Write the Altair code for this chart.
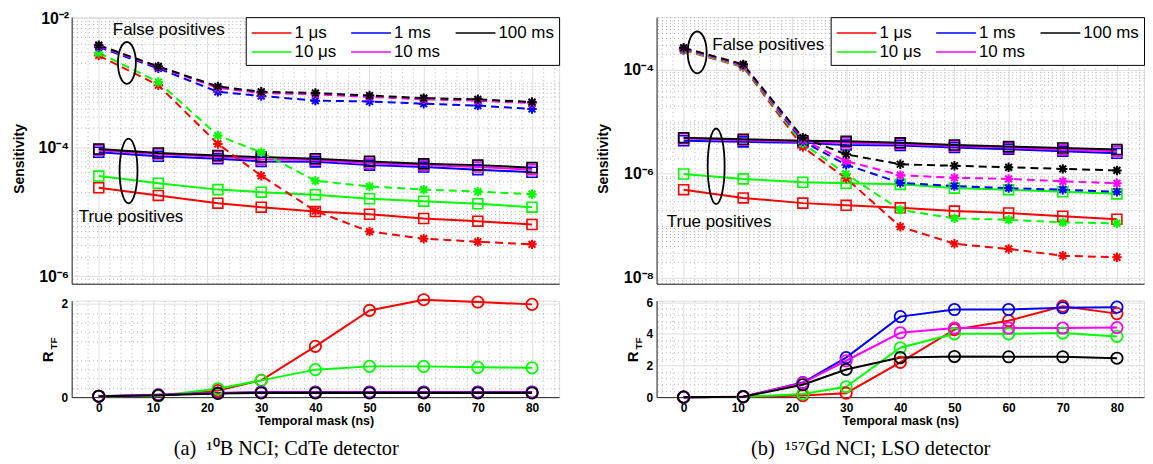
import altair as alt
import pandas as pd

# ---------------- data ----------------
mask_ns = [0, 11, 22, 30, 40, 50, 60, 70, 80]
series_names = ["1 μs", "10 μs", "1 ms", "10 ms", "100 ms"]          # draw + legend order
series_colors = ["#ff0000", "#00ff00", "#0000ff", "#ff00ff", "#000000"]

# (a) 10B NCI; CdTe detector -- true positives (solid)
a_tp = {
    "1 μs":   [2.34e-5, 1.78e-5, 1.35e-5, 1.17e-5, 1.0e-5, 9.1e-6, 7.8e-6, 7.1e-6, 6.3e-6],
    "10 μs":  [3.55e-5, 2.75e-5, 2.19e-5, 2.0e-5, 1.82e-5, 1.58e-5, 1.45e-5, 1.32e-5, 1.17e-5],
    "1 ms":   [8.3e-5, 7.2e-5, 6.6e-5, 6.0e-5, 5.9e-5, 5.25e-5, 4.9e-5, 4.47e-5, 4.07e-5],
    "10 ms":  [8.9e-5, 7.8e-5, 7.1e-5, 6.5e-5, 6.3e-5, 5.6e-5, 5.25e-5, 4.9e-5, 4.47e-5],
    "100 ms": [9.3e-5, 8.1e-5, 7.4e-5, 7.0e-5, 6.6e-5, 6.0e-5, 5.5e-5, 5.25e-5, 4.8e-5],
}
# (a) false positives (dashed)
a_fp = {
    "1 μs":   [2.63e-3, 9.1e-4, 1.12e-4, 3.6e-5, 1.02e-5, 4.9e-6, 3.8e-6, 3.4e-6, 3.1e-6],
    "10 μs":  [2.9e-3, 1.02e-3, 1.51e-4, 8.3e-5, 3.0e-5, 2.45e-5, 2.19e-5, 2.04e-5, 1.86e-5],
    "1 ms":   [3.55e-3, 1.66e-3, 7.2e-4, 6.2e-4, 5.25e-4, 5.1e-4, 4.7e-4, 4.4e-4, 3.9e-4],
    "10 ms":  [3.7e-3, 1.74e-3, 8.3e-4, 6.9e-4, 6.6e-4, 6.0e-4, 5.5e-4, 5.25e-4, 4.8e-4],
    "100 ms": [3.8e-3, 1.78e-3, 8.7e-4, 7.2e-4, 6.9e-4, 6.3e-4, 5.75e-4, 5.5e-4, 5.0e-4],
}
# (a) R_TF
a_rtf = {
    "1 μs":   [0.02, 0.03, 0.14, 0.36, 1.09, 1.86, 2.09, 2.04, 1.99],
    "10 μs":  [0.02, 0.03, 0.18, 0.36, 0.59, 0.66, 0.66, 0.64, 0.63],
    "1 ms":   [0.02, 0.05, 0.09, 0.11, 0.11, 0.11, 0.11, 0.11, 0.11],
    "10 ms":  [0.02, 0.05, 0.09, 0.10, 0.10, 0.10, 0.10, 0.10, 0.10],
    "100 ms": [0.02, 0.04, 0.08, 0.09, 0.09, 0.09, 0.09, 0.09, 0.09],
}

# (b) 157Gd NCI; LSO detector -- true positives
b_tp = {
    "1 μs":   [4.9e-7, 3.4e-7, 2.7e-7, 2.45e-7, 2.19e-7, 1.9e-7, 1.74e-7, 1.51e-7, 1.32e-7],
    "10 μs":  [9.8e-7, 7.9e-7, 6.8e-7, 6.5e-7, 6.2e-7, 5.25e-7, 4.9e-7, 4.47e-7, 4.07e-7],
    "1 ms":   [4.27e-6, 4.07e-6, 3.9e-6, 3.55e-6, 3.47e-6, 3.16e-6, 2.95e-6, 2.7e-6, 2.45e-6],
    "10 ms":  [4.7e-6, 4.37e-6, 4.07e-6, 3.9e-6, 3.7e-6, 3.4e-6, 3.16e-6, 2.88e-6, 2.7e-6],
    "100 ms": [4.9e-6, 4.57e-6, 4.27e-6, 4.17e-6, 3.9e-6, 3.55e-6, 3.3e-6, 3.1e-6, 2.9e-6],
}
# (b) false positives
b_fp = {
    "1 μs":   [2.34e-4, 1.12e-4, 3.24e-6, 8.1e-7, 9.5e-8, 4.47e-8, 3.55e-8, 2.63e-8, 2.45e-8],
    "10 μs":  [2.4e-4, 1.15e-4, 3.8e-6, 9.8e-7, 2.0e-7, 1.38e-7, 1.29e-7, 1.15e-7, 1.1e-7],
    "1 ms":   [2.51e-4, 1.2e-4, 4.17e-6, 1.48e-6, 6.6e-7, 5.75e-7, 5.25e-7, 4.9e-7, 4.47e-7],
    "10 ms":  [2.51e-4, 1.2e-4, 4.47e-6, 1.74e-6, 9.3e-7, 8.3e-7, 7.9e-7, 7.1e-7, 6.5e-7],
    "100 ms": [2.63e-4, 1.26e-4, 4.9e-6, 2.34e-6, 1.51e-6, 1.41e-6, 1.32e-6, 1.23e-6, 1.15e-6],
}
# (b) R_TF
b_rtf = {
    "1 μs":   [0.0, 0.02, 0.10, 0.25, 2.20, 4.27, 4.83, 5.75, 5.28],
    "10 μs":  [0.0, 0.02, 0.20, 0.66, 3.12, 4.00, 4.00, 4.05, 3.84],
    "1 ms":   [0.0, 0.03, 0.92, 2.50, 5.09, 5.54, 5.54, 5.65, 5.69],
    "10 ms":  [0.0, 0.03, 0.90, 2.30, 4.07, 4.37, 4.37, 4.37, 4.40],
    "100 ms": [0.0, 0.03, 0.78, 1.75, 2.50, 2.57, 2.55, 2.55, 2.46],
}

# annotations: (label, x, y)
a_texts = [("False positives", 2.6, 6.5e-3), ("True positives", -3.7, 8.1e-6)]
a_ellipses = [(5.2, 2.02e-3, 18, 42), (5.5, 4.26e-5, 18, 65)]   # x, y, width px, height px
b_texts = [("False positives", 5.3, 3.03e-4), ("True positives", -3.1, 1.17e-7)]
b_ellipses = [(2.5, 2.14e-4, 19, 42), (6.0, 1.38e-6, 17, 76)]

captions = ["(a)\u00a0\u00a0¹⁰B NCI; CdTe detector", "(b)\u00a0\u00a0¹⁵⁷Gd NCI; LSO detector"]

# ---------------- styling ----------------
FONT = "Liberation Sans"
W, H_TOP, H_BOT = 490, 268, 97
X_DOMAIN = [-5, 85]
MAJOR_X = [0, 10, 20, 30, 40, 50, 60, 70, 80]
MINOR_X = [v for v in range(-4, 86, 2) if v % 10 != 0]
MAJOR_GRID = "#dedede"
MINOR_GRID = "#b4b4b4"
AXIS_COLOR = "#262626"
ASTERISK = "M-1,0L1,0M0,-1L0,1M-0.72,-0.72L0.72,0.72M-0.72,0.72L0.72,-0.72"
LEGEND_LINE = "M-1,0L3,0"   # a 40 px line for a 20 px symbol box

color_scale = alt.Scale(domain=series_names, range=series_colors)

LEGEND = alt.Legend(
    title=None, orient="top-right", offset=0, columns=3, symbolType=LEGEND_LINE,
    symbolSize=400, symbolStrokeWidth=1.5, labelFont=FONT, labelFontSize=17,
    labelOffset=22, columnPadding=12, rowPadding=0, padding=5,
    strokeColor="#000000", fillColor="#ffffff", labelLimit=200, labelColor="#000000",
)


def long(d):
    rows = []
    for s in series_names:
        for x, v in zip(mask_ns, d[s]):
            rows.append({"mask": x, "series": s, "value": v})
    return pd.DataFrame(rows)


def ellipse_path(r):
    k = 0.5523
    return (f"M0,-1C{k*r:.4f},-1 {r:.4f},{-k:.4f} {r:.4f},0"
            f"C{r:.4f},{k:.4f} {k*r:.4f},1 0,1"
            f"C{-k*r:.4f},1 {-r:.4f},{k:.4f} {-r:.4f},0"
            f"C{-r:.4f},{-k:.4f} {-k*r:.4f},-1 0,-1Z")


def minor_axis(orient, values):
    return alt.Axis(orient=orient, values=values, grid=True, gridDash=[1, 3],
                    gridColor=MINOR_GRID, gridWidth=1, labels=False, ticks=False,
                    domain=False, title=None)


def top_chart(tp, fp, ydom, yvals, minor_y, texts, ellipses, title_x):
    xs = alt.Scale(domain=X_DOMAIN, nice=False, zero=False)
    ys = alt.Scale(type="log", domain=ydom, nice=False)
    tpdf, fpdf = long(tp), long(fp)
    col = alt.Color("series:N", scale=color_scale, legend=LEGEND)

    minor = alt.Chart(tpdf).mark_point(opacity=0, size=0).encode(
        x=alt.X("mask:Q", scale=xs, axis=minor_axis("top", MINOR_X)),
        y=alt.Y("value:Q", scale=ys, axis=minor_axis("right", minor_y)),
    )
    label_expr = ("datum.value < 5e-8 ? '10⁻⁸' : datum.value < 5e-6 ? '10⁻⁶' : "
                  "datum.value < 5e-4 ? '10⁻⁴' : '10⁻²'")
    x_axis = alt.Axis(values=MAJOR_X, grid=True, gridColor=MAJOR_GRID, labels=False,
                      ticks=False, title=None, domainColor=AXIS_COLOR)
    y_axis = alt.Axis(values=yvals, grid=True, gridColor=MAJOR_GRID, ticks=False, tickSize=0,
                      labelExpr=label_expr, labelFont=FONT, labelFontSize=16,
                      labelFontWeight="bold", labelColor="#000000", labelPadding=3,
                      domainColor=AXIS_COLOR, title="Sensitivity", titleFont=FONT,
                      titleFontSize=14, titleFontWeight="bold", titleColor="#000000",
                      titleAngle=270, titleBaseline="alphabetic", titleAlign="center",
                      titleX=title_x, titleY=142)
    tp_line = alt.Chart(tpdf).mark_line(strokeWidth=2).encode(
        x=alt.X("mask:Q", scale=xs, axis=x_axis),
        y=alt.Y("value:Q", scale=ys, axis=y_axis),
        color=col, detail="series:N",
    )
    fp_line = alt.Chart(fpdf).mark_line(strokeWidth=2, strokeDash=[8, 5]).encode(
        x=alt.X("mask:Q", scale=xs, axis=None),
        y=alt.Y("value:Q", scale=ys, axis=None),
        color=col,
    )
    tp_pts = alt.Chart(tpdf).mark_point(shape="square", filled=False, size=100, strokeWidth=1.6,
                                        opacity=1).encode(
        x=alt.X("mask:Q", scale=xs, axis=None),
        y=alt.Y("value:Q", scale=ys, axis=None),
        color=col,
    )
    fp_pts = alt.Chart(fpdf).mark_point(shape=ASTERISK, filled=False, size=90, strokeWidth=2,
                                        opacity=1).encode(
        x=alt.X("mask:Q", scale=xs, axis=None),
        y=alt.Y("value:Q", scale=ys, axis=None),
        color=col,
    )
    tdf = pd.DataFrame(texts, columns=["label", "mask", "value"])
    txt = alt.Chart(tdf).mark_text(align="left", baseline="middle", font=FONT, fontSize=17,
                                   color="#000000").encode(
        x=alt.X("mask:Q", scale=xs, axis=None),
        y=alt.Y("value:Q", scale=ys, axis=None),
        text="label:N",
    )
    layers = [minor, tp_line, fp_line, tp_pts, fp_pts, txt]
    for (ex, ey, ew, eh) in ellipses:
        edf = pd.DataFrame({"mask": [ex], "value": [ey]})
        layers.append(
            alt.Chart(edf).mark_point(shape=ellipse_path(ew / eh), size=eh * eh, filled=False,
                                      color="#000000", strokeWidth=1.8, opacity=1).encode(
                x=alt.X("mask:Q", scale=xs, axis=None),
                y=alt.Y("value:Q", scale=ys, axis=None),
            )
        )
    return alt.layer(*layers).resolve_axis(x="independent", y="independent").properties(
        width=W, height=H_TOP)


def bottom_chart(r, ymax, yvals, minor_y):
    xs = alt.Scale(domain=X_DOMAIN, nice=False, zero=False)
    ys = alt.Scale(domain=[0, ymax], nice=False, zero=False)
    df = long(r)
    col = alt.Color("series:N", scale=color_scale, legend=None)
    minor = alt.Chart(df).mark_point(opacity=0, size=0).encode(
        x=alt.X("mask:Q", scale=xs, axis=minor_axis("top", MINOR_X)),
        y=alt.Y("value:Q", scale=ys, axis=minor_axis("right", minor_y)),
    )
    x_axis = alt.Axis(values=MAJOR_X, grid=True, gridColor=MAJOR_GRID, ticks=False, tickSize=0,
                      format="d", labelFont=FONT, labelFontSize=12, labelFontWeight="bold",
                      labelColor="#000000", labelPadding=5, domainColor=AXIS_COLOR,
                      title="Temporal mask (ns)", titleFont=FONT, titleFontSize=12.5,
                      titleFontWeight="bold", titleColor="#000000", titlePadding=2)
    y_axis = alt.Axis(values=yvals, grid=True, gridColor=MAJOR_GRID, ticks=False, tickSize=0,
                      format="d", labelFont=FONT, labelFontSize=12, labelFontWeight="bold",
                      labelColor="#000000", labelPadding=4, domainColor=AXIS_COLOR,
                      title="R", titleFont=FONT, titleFontSize=15, titleFontWeight="bold",
                      titleColor="#000000", titleAngle=270, titleBaseline="alphabetic",
                      titleAlign="center", titleX=-19, titleY=56)
    line = alt.Chart(df).mark_line(strokeWidth=2).encode(
        x=alt.X("mask:Q", scale=xs, axis=x_axis),
        y=alt.Y("value:Q", scale=ys, axis=y_axis),
        color=col,
    )
    pts = alt.Chart(df).mark_point(shape="circle", filled=False, size=130, strokeWidth=1.8,
                                   opacity=1).encode(
        x=alt.X("mask:Q", scale=xs, axis=None),
        y=alt.Y("value:Q", scale=ys, axis=None),
        color=col,
    )
    sub = alt.Chart(pd.DataFrame({"t": ["TF"]})).mark_text(
        font=FONT, fontSize=10, fontWeight="bold", angle=270, align="center",
        baseline="alphabetic", color="#000000").encode(
        x=alt.value(-15), y=alt.value(43), text="t:N")
    return alt.layer(minor, line, pts, sub).resolve_axis(
        x="independent", y="independent").properties(width=W, height=H_BOT)


minor_y_a = [m * 10.0 ** e for e in range(-7, -1) for m in range(1, 10)
             if not (m == 1 and e in (-6, -4, -2)) and 7.6e-7 <= m * 10.0 ** e <= 1.03e-2]
minor_y_b = [m * 10.0 ** e for e in range(-9, -2) for m in range(1, 10)
             if not (m == 1 and e in (-8, -6, -4)) and 7.6e-9 <= m * 10.0 ** e <= 1.02e-3]

top_a = top_chart(a_tp, a_fp, [7.6e-7, 1.035e-2], [1e-6, 1e-4, 1e-2], minor_y_a,
                  a_texts, a_ellipses, -48)
top_b = top_chart(b_tp, b_fp, [7.6e-9, 1.02e-3], [1e-8, 1e-6, 1e-4], minor_y_b,
                  b_texts, b_ellipses, -49)
bot_a = bottom_chart(a_rtf, 2.07, [0, 1, 2], [round(0.2 * i, 1) for i in range(1, 11) if i % 5])
bot_b = bottom_chart(b_rtf, 6.1, [0, 2, 4, 6], [round(0.4 * i, 1) for i in range(1, 16) if i % 5])


def caption(t):
    return alt.TitleParams(text=t, orient="bottom", anchor="middle", font="Liberation Serif",
                           fontSize=20.5, fontWeight="normal", color="#000000", offset=11)


col_a = alt.vconcat(top_a, bot_a, spacing=17, bounds="flush",
                    title=caption(captions[0])).resolve_scale(color="independent")
col_b = alt.vconcat(top_b, bot_b, spacing=17, bounds="flush",
                    title=caption(captions[1])).resolve_scale(color="independent")

chart = alt.hconcat(col_a, col_b, spacing=36).resolve_scale(
    color="independent").properties(
    padding={"left": 4, "top": 0, "right": 0, "bottom": 0}
).configure_view(stroke=None).configure(background="#ffffff")

chart.save("out.html", embed_options={"renderer": "svg", "actions": False})
